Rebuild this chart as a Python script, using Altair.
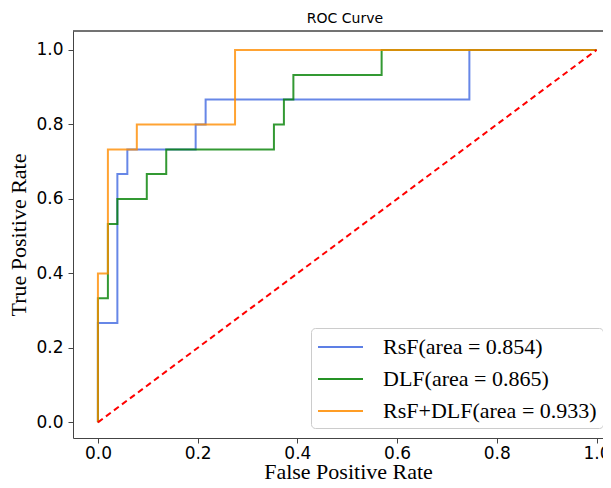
import altair as alt
import pandas as pd

labels = ["RsF(area = 0.854)", "DLF(area = 0.865)", "RsF+DLF(area = 0.933)"]
colors = ["#4169E1", "#008000", "#FF8C00"]

rsf_fpr = [0.0, 0.0, 0.039, 0.039, 0.059, 0.059, 0.196, 0.196, 0.216, 0.216, 0.745, 0.745, 1.0]
rsf_tpr = [0.0, 0.267, 0.267, 0.667, 0.667, 0.733, 0.733, 0.8, 0.8, 0.867, 0.867, 1.0, 1.0]

dlf_fpr = [0.0, 0.0, 0.020, 0.020, 0.039, 0.039, 0.098, 0.098, 0.137, 0.137, 0.353, 0.353,
           0.373, 0.373, 0.392, 0.392, 0.569, 0.569, 1.0]
dlf_tpr = [0.0, 0.333, 0.333, 0.533, 0.533, 0.6, 0.6, 0.667, 0.667, 0.733, 0.733, 0.8,
           0.8, 0.867, 0.867, 0.933, 0.933, 1.0, 1.0]

combo_fpr = [0.0, 0.0, 0.020, 0.020, 0.078, 0.078, 0.275, 0.275, 1.0]
combo_tpr = [0.0, 0.4, 0.4, 0.733, 0.733, 0.8, 0.8, 1.0, 1.0]

chance_fpr = [0.0, 1.0]
chance_tpr = [0.0, 1.0]

tick_values = [0.0, 0.2, 0.4, 0.6, 0.8, 1.0]

PLOT_W = 530
PLOT_H = 407


def series_frame(label, fpr, tpr):
    return pd.DataFrame({"model": label, "fpr": fpr, "tpr": tpr, "step": list(range(len(fpr)))})


frames = [
    series_frame(labels[0], rsf_fpr, rsf_tpr),
    series_frame(labels[1], dlf_fpr, dlf_tpr),
    series_frame(labels[2], combo_fpr, combo_tpr),
]
diag = pd.DataFrame({"fpr": chance_fpr, "tpr": chance_tpr})

x_scale = alt.Scale(domain=[-0.05, 1.013], nice=False, zero=False)
y_scale = alt.Scale(domain=[-0.042, 1.051], nice=False, zero=False)

x_enc = alt.X("fpr:Q", scale=x_scale,
              axis=alt.Axis(title="False Positive Rate", values=tick_values, format=".1f",
                            labelPadding=2, titlePadding=0, titleX=275, titleAlign="center"))
y_enc = alt.Y("tpr:Q", scale=y_scale,
              axis=alt.Axis(title="True Positive Rate", values=tick_values, format=".1f",
                            labelPadding=5, titlePadding=5))

color_enc = alt.Color(
    "model:N",
    scale=alt.Scale(domain=labels, range=colors),
    legend=alt.Legend(
        title=None,
        orient="none",
        legendX=238,
        legendY=297,
        fillColor="white",
        strokeColor="#cccccc",
        cornerRadius=4,
        padding=6,
        labelFont="Liberation Serif",
        labelFontSize=22,
        labelColor="black",
        labelLimit=400,
        labelOffset=40,
        rowPadding=8,
        symbolType="M-1,0L2.75,0",
        symbolSize=576,
        symbolStrokeWidth=2,
        symbolOpacity=0.85,
    ),
)

layers = []
for f in frames:
    layers.append(
        alt.Chart(f).mark_line(strokeWidth=2, opacity=0.8).encode(
            x=x_enc, y=y_enc, color=color_enc, order="step:Q"
        )
    )

chance = alt.Chart(diag).mark_line(color="red", strokeWidth=2, strokeDash=[6, 4]).encode(
    x=x_enc, y=y_enc
)

top_spine = alt.Chart(diag).mark_rule(color="#444444", strokeWidth=1).encode(
    x=alt.value(0), x2=alt.value(PLOT_W), y=alt.value(0)
)

chart = alt.layer(*layers, chance, top_spine).properties(
    width=PLOT_W,
    height=PLOT_H,
    autosize=alt.AutoSizeParams(type="none"),
    padding={"left": 65, "top": 23, "right": 0, "bottom": 42},
    title=alt.TitleParams("ROC Curve", font="DejaVu Sans", fontSize=14, fontWeight="normal",
                          anchor="middle", frame="group", offset=5, dx=7, color="black"),
).configure_view(stroke=None).configure_axis(
    grid=False,
    domainColor="#444444",
    tickColor="#444444",
    tickSize=5,
    labelColor="black",
    titleColor="black",
    labelFont="DejaVu Sans",
    labelFontSize=17,
    titleFont="Liberation Serif",
    titleFontSize=22,
    titleFontWeight="normal",
)

chart.save("out.html", embed_options={"renderer": "svg", "actions": False})
